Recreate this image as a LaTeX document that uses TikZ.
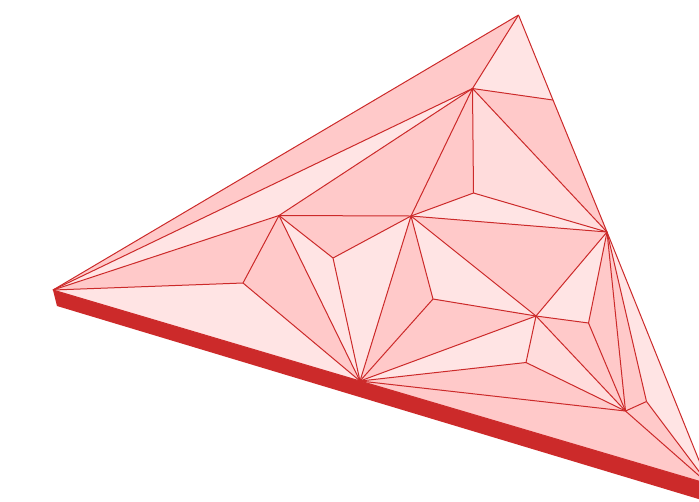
\documentclass[tikz,border=0pt]{standalone}
\usepackage{tikz}
\definecolor{rimred}{HTML}{CC2A2A}
\definecolor{pale}{HTML}{FFE4E4}
\definecolor{mid}{HTML}{FFDCDC}
\definecolor{deep}{HTML}{FFC9C9}

\begin{document}
\begin{tikzpicture}[x=0.75pt, y=-0.75pt, line width=0.75pt, line join=round,
  edge/.style={draw=rimred},
  rim/.style={fill=rimred, draw=none}]
  \useasboundingbox (0,0) rectangle (699,501);
  \clip (0,0) rectangle (699,501);
  \foreach \n/\x/\y in {top/518.5/15, lft/53/290, rgt/708.5/484, lftb/57/306, rgtb/708.5/502,
    b/472.5/88.5, c/553/100, d/607/232, e/473.5/193, f/411/216, g/279/215.5, h/333/258, i/243/283,
    j/360/381, k/433/299, m/536/316, n/588.5/323, o/526/362.5, q/625.5/411, s/646.5/401.5}
    \coordinate (\n) at (\x,\y);
  \fill[rim] (lft) -- (rgt) -- (rgtb) -- (lftb) -- cycle;
  \foreach \p/\u/\v in {lft/g/b, top/b/c, e/f/d, lft/i/j, g/h/j, h/f/j, f/k/m, m/n/d, m/o/j, d/s/rgt}
    \fill[pale] (\p) -- (\u) -- (\v) -- cycle;
  \foreach \p/\u/\v in {b/e/d, m/o/q}
    \fill[mid] (\p) -- (\u) -- (\v) -- cycle;
  \foreach \p/\u/\v in {lft/top/b, b/g/f, b/f/e, b/c/d, lft/g/i, g/i/j, g/h/f, f/k/j, f/m/d, k/m/j,
    o/j/q, m/n/q, n/d/q, d/q/s, q/s/rgt, j/q/rgt}
    \fill[deep] (\p) -- (\u) -- (\v) -- cycle;
  \foreach \a/\b in {lft/top, top/c, c/d, d/rgt, lft/j, j/rgt, top/b, b/c, b/d, b/e, b/f, e/f, e/d,
    f/d, b/lft, b/g, g/lft, g/f, g/h, h/f, g/i, i/lft, i/j, g/j, h/j, f/j, f/k, k/j, k/m, f/m,
    m/d, m/n, n/d, n/q, m/q, m/o, o/q, o/j, m/j, j/q, q/d, s/d, q/s, s/rgt, q/rgt}
    \draw[edge] (\a) -- (\b);
\end{tikzpicture}
\end{document}
